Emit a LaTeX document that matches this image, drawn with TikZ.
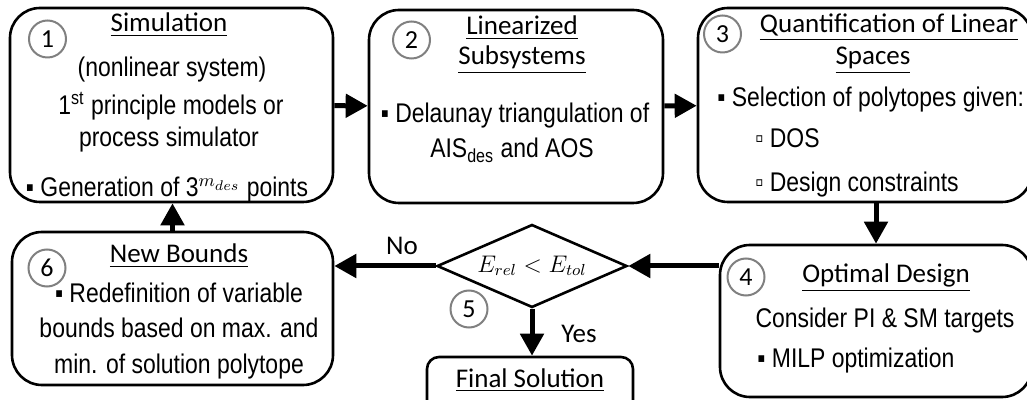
\documentclass[tikz,border=0pt]{standalone}
\usepackage{fontspec}
\setmainfont{Liberation Sans}[FakeStretch=0.85]
\newfontfamily\headfont{Carlito}
\usetikzlibrary{shapes.geometric,arrows.meta}
\definecolor{ringgray}{RGB}{128,128,128}

\begin{document}
\begin{tikzpicture}[x=0.5pt, y=-0.5pt,
    box/.style={draw, line width=1.3pt, rounded corners=15pt},
    num/.style={draw=ringgray, line width=1pt, circle, minimum size=18.5pt, inner sep=0pt, font=\headfont\fontsize{13}{13}\selectfont},
    head/.style={anchor=base, inner sep=0pt, font=\headfont\fontsize{13.5}{16}\selectfont},
    txt/.style={anchor=base, inner sep=0pt, font=\fontsize{13.5}{16}\selectfont},
    flow/.style={-{Triangle[length=11pt,width=11.5pt]}, line width=2.5pt}]
    \clip (0,0) rectangle (1027,400);

    % boxes
    \node[box, minimum width=161.5pt, minimum height=97pt] (sim) at (171.5,105) {};
    \node[box, minimum width=147pt, minimum height=96.5pt] (lin) at (516,106.5) {};
    \node[box, minimum width=167pt, minimum height=97pt] (quant) at (865,105) {};
    \node[box, minimum width=156pt, minimum height=76pt] (opt) at (876,321) {};
    \node[box, minimum width=160.5pt, minimum height=76.5pt] (newb) at (172.5,308.5) {};
    \node[box, rounded corners=6pt, minimum width=103pt, minimum height=29pt] (fin) at (530,386) {};
    \node[draw, diamond, aspect=2.3, line width=1.3pt, minimum width=95pt, minimum height=41.5pt, inner sep=0pt,
          font=\fontsize{12}{14}\selectfont] (dec) at (532,266) {$E_{rel}<E_{tol}$};

    % step numbers
    \node[num] (c1) at (47.5,39) {1};
    \node[num] (c2) at (411.5,40) {2};
    \node[num] (c3) at (722.5,34) {3};
    \node[num] (c4) at (746,277) {4};
    \node[num] (c5) at (469,309) {5};
    \node[num] (c6) at (47,268) {6};

    % box texts
    \node[head] (h1) at (169,32) {\underline{Simulation}};
    \node[txt] (t1a) at (172,77) {(nonlinear system)};
    \node[txt] (t1b) at (171,115) {1\textsuperscript{st} principle models or};
    \node[txt] (t1c) at (169,147) {process simulator};
    \node[txt] (t1d) at (167,197) {▪ Generation of 3$^{m_{des}}$ points};

    \node[head] (h2a) at (522,35) {\underline{Linearized}};
    \node[head] (h2b) at (522,65) {\underline{Subsystems}};
    \node[txt] (t2a) at (515,123) {▪ Delaunay triangulation of};
    \node[txt] (t2b) at (512,158) {AIS\textsubscript{des} and AOS};

    \node[head] (h3a) at (889,33) {\underline{Quantification of Linear}};
    \node[head] (h3b) at (873,65) {\underline{Spaces}};
    \node[txt, anchor=base west] (t3a) at (717,107) {▪ Selection of polytopes given:};
    \node[txt, anchor=base west] (t3b) at (755,148) {▫ DOS};
    \node[txt, anchor=base west] (t3c) at (755,192) {▫ Design constraints};

    \node[head] (h4) at (886,283) {\underline{Optimal Design}};
    \node[txt] (t4a) at (885,328) {Consider PI \& SM targets};
    \node[txt, anchor=base west] (t4b) at (757,367) {▪ MILP optimization};

    \node[head] (h6) at (179,263) {\underline{New Bounds}};
    \node[txt] (t6a) at (179,303) {▪ Redefinition of variable};
    \node[txt] (t6b) at (179,338) {bounds based on max. and};
    \node[txt] (t6c) at (179,373) {min. of solution polytope};

    \node[head] (hf) at (530,387) {\underline{Final Solution}};
    \node[head] (no) at (402,255) {No};
    \node[head] (yes) at (579,343) {Yes};

    % flow
    \draw[flow] (sim) -- (lin);
    \draw[flow] (lin) -- (quant);
    \draw[flow] (opt.north |- quant.south) -- (opt.north);
    \draw[flow] (dec.east -| opt.west) -- (dec.east);
    \draw[flow] (dec.west) -- (dec.west -| newb.east);
    \draw[flow] (newb.north) -- (newb.north |- sim.south);
    \draw[flow] (dec.south) -- (dec.south |- fin.north);
\end{tikzpicture}
\end{document}
